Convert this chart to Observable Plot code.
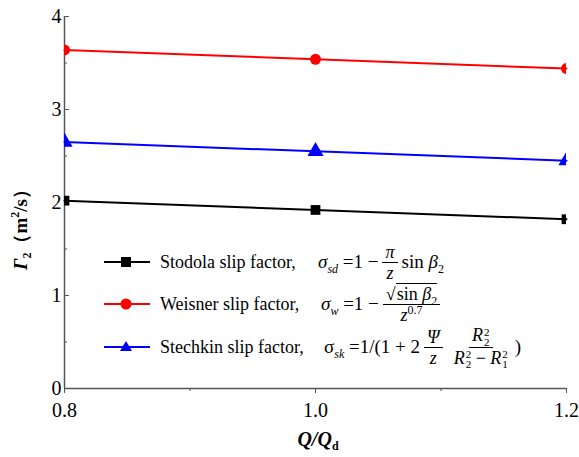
<!DOCTYPE html>
<html>
<head>
<meta charset="utf-8">
<script src="https://cdn.jsdelivr.net/npm/d3@7"></script>
<script src="https://cdn.jsdelivr.net/npm/@observablehq/plot@0.6"></script>
<style>
body { margin: 0; background: #fff; }
#wrap { position: relative; width: 579px; height: 457px; color: #000; font-family: "Liberation Serif", "Times New Roman", serif; }
.leg { position: absolute; height: 20px; display: flex; align-items: center; white-space: nowrap; font-size: 18px; }
.f { font-size: 19px; }
.f i { font-style: italic; }
.frac { display: inline-flex; flex-direction: column; align-items: center; margin: 0 4px; font-size: 18px; line-height: 20px; }
.frac .num { border-bottom: 1px solid #000; padding: 0 3px; }
.frac .den { padding: 0 3px; }
sub, sup { font-size: 12px; line-height: 0; }
.ss { display: inline-flex; flex-direction: column; font-size: 11px; line-height: 10px; vertical-align: middle; margin-left: 1px; }
.sqrt { border-top: 1px solid #000; padding-left: 1px; }
</style>
</head>
<body>
<div id="wrap"></div>
<script>
const ratio = [0.8, 1.0, 1.2];
const stodola = [2.02, 1.92, 1.82];
const weisner = [3.64, 3.54, 3.44];
const stechkin = [2.65, 2.55, 2.45];
const seriesNames = ["Stodola slip factor,", "Weisner slip factor,", "Stechkin slip factor,"];
const seriesColors = ["#000000", "#ff0000", "#0000ff"];
const seriesSymbols = ["square", "circle", "triangle"];
const yTicks = [0, 1, 2, 3, 4];
const yMinor = [0.5, 1.5, 2.5, 3.5];
const xTicks = [0.8, 1.0, 1.2];
const xMinor = [0.9, 1.1];

const serif = '"Liberation Serif", "Times New Roman", serif';

const values = [stodola, weisner, stechkin];
const data = [];
values.forEach((vals, s) => vals.forEach((v, i) => data.push({series: s, x: ratio[i], y: v})));

const axisColor = "#555";
const chart = Plot.plot({
  width: 579,
  height: 457,
  marginLeft: 64,
  marginRight: 13,
  marginTop: 16,
  marginBottom: 69,
  style: {fontFamily: serif, fontSize: "20px", color: "#000", background: "#fff"},
  x: {domain: [0.8, 1.2]},
  y: {domain: [0, 4]},
  marks: [
    Plot.axisX({ticks: xTicks, tickFormat: d3.format(".1f"), tickSize: 5, tickPadding: 9, stroke: axisColor, fontSize: 20, fontFamily: serif, label: null}),
    Plot.axisX({ticks: xMinor, tickFormat: () => "", tickSize: 3, stroke: axisColor, label: null}),
    Plot.axisY({ticks: yTicks, tickFormat: d3.format("d"), tickSize: -5, tickPadding: 8, stroke: axisColor, fontSize: 20, fontFamily: serif, label: null}),
    Plot.axisY({ticks: yMinor, tickFormat: () => "", tickSize: -3, stroke: axisColor, label: null}),
    Plot.ruleY([0], {stroke: axisColor, strokeWidth: 1.5}),
    Plot.ruleX([0.8], {stroke: axisColor, strokeWidth: 1.5}),
    ...values.map((vals, s) => Plot.line(data.filter(d => d.series === s), {x: "x", y: "y", stroke: seriesColors[s], strokeWidth: 2})),
    ...values.map((vals, s) => Plot.dot(data.filter(d => d.series === s), {x: "x", y: "y", symbol: () => seriesSymbols[s], fill: seriesColors[s], stroke: "none", r: s === 2 ? 6 : 5.5, clip: true}))
  ]
});
const wrap = document.getElementById("wrap");
wrap.appendChild(chart);

const svg = d3.select(chart);
// Y-axis title
const yt = svg.append("text")
  .attr("transform", "translate(27,225) rotate(-90)")
  .attr("text-anchor", "middle")
  .attr("font-family", serif)
  .attr("font-size", 19)
  .attr("font-weight", "bold")
  .attr("fill", "#000");
yt.append("tspan").attr("font-style", "italic").text("Γ");
yt.append("tspan").attr("font-size", 12).attr("dy", 4).text("2");
yt.append("tspan").attr("dy", -4).text("（m");
yt.append("tspan").attr("font-size", 12).attr("dy", -8).text("2");
yt.append("tspan").attr("dy", 8).text("/s）");
// X-axis title
const xt = svg.append("text")
  .attr("x", 318).attr("y", 446)
  .attr("text-anchor", "middle")
  .attr("font-family", serif)
  .attr("font-size", 20)
  .attr("font-weight", "bold")
  .attr("fill", "#000");
xt.append("tspan").attr("font-style", "italic").text("Q/Q");
xt.append("tspan").attr("font-size", 12).attr("dy", 4).text("d");

// Legend
const rows = [262, 304, 347];
const formulas = [
  `<span><i>σ</i><sub><i>sd</i></sub>&nbsp;=1 − </span><span class="frac"><span class="num"><i>π</i></span><span class="den"><i>z</i></span></span><span>sin <i>β</i><sub>2</sub></span>`,
  `<span><i>σ</i><sub><i>w</i></sub>&nbsp;=1 − </span><span class="frac"><span class="num">√<span class="sqrt">sin <i>β</i><sub>2</sub></span></span><span class="den"><i>z</i><sup>0.7</sup></span></span>`,
  `<span>σ<sub><i>sk</i></sub>&nbsp;=1/(1 + 2</span><span class="frac"><span class="num"><i>Ψ</i></span><span class="den"><i>z</i></span></span><span class="frac"><span class="num"><i>R</i><span class="ss"><span>2</span><span>2</span></span></span><span class="den"><i>R</i><span class="ss"><span>2</span><span>2</span></span> − <i>R</i><span class="ss"><span>2</span><span>1</span></span></span></span><span>)</span>`
];
const symbolPaths = [
  c => `<rect x="17" y="5" width="10" height="10" fill="${c}"/>`,
  c => `<circle cx="22" cy="10" r="5.5" fill="${c}"/>`,
  c => `<path d="M22,4 L28,14 L16,14 Z" fill="${c}"/>`
];
rows.forEach((cy, i) => {
  const sym = document.createElement("div");
  sym.className = "leg";
  sym.style.left = "104px"; sym.style.top = (cy - 10) + "px";
  sym.innerHTML = `<svg width="46" height="20"><line x1="0" x2="46" y1="10" y2="10" stroke="${seriesColors[i]}" stroke-width="2"/>${symbolPaths[i](seriesColors[i])}</svg>`;
  wrap.appendChild(sym);
  const lab = document.createElement("div");
  lab.className = "leg";
  lab.style.left = "160px"; lab.style.top = (cy - 10) + "px";
  lab.textContent = seriesNames[i];
  wrap.appendChild(lab);
  const f = document.createElement("div");
  f.className = "leg f";
  f.style.left = (i === 0 ? 318 : i === 1 ? 321 : 324) + "px"; f.style.top = (cy - 10) + "px";
  f.innerHTML = formulas[i];
  wrap.appendChild(f);
});
</script>
</body>
</html>
